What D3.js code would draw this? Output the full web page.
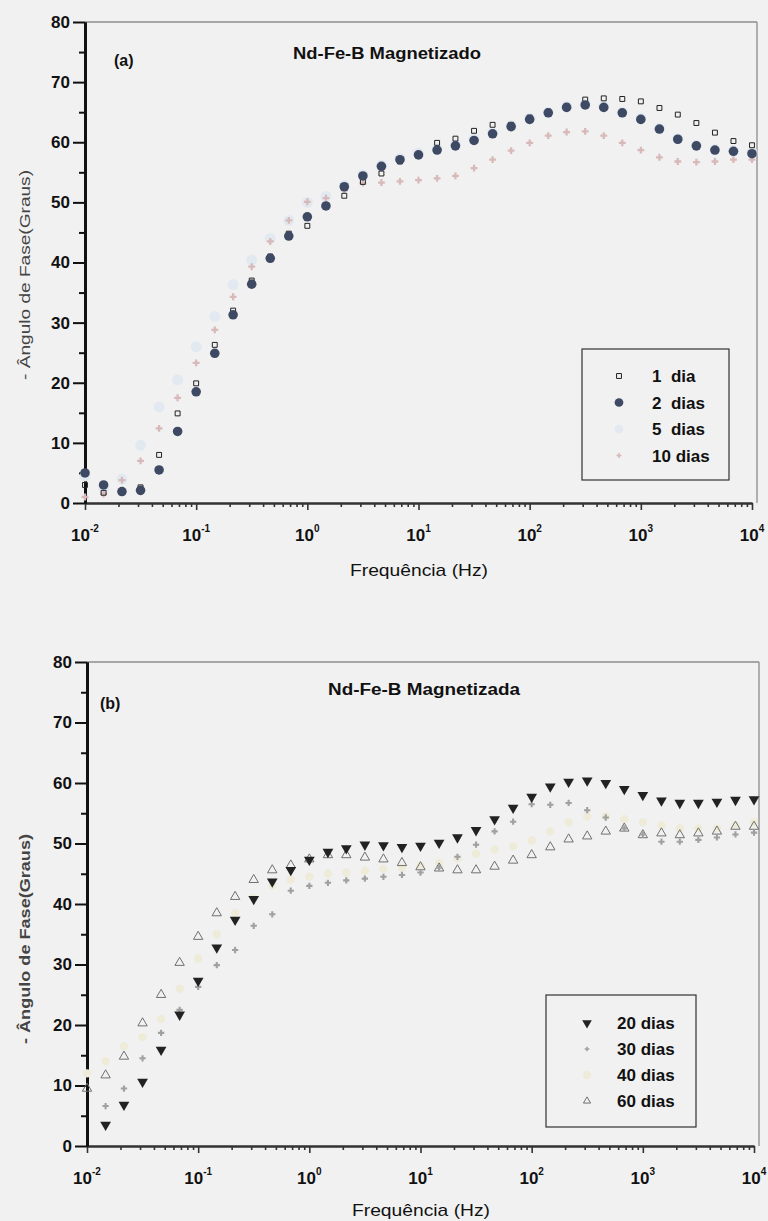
<!DOCTYPE html>
<html>
<head>
<meta charset="utf-8">
<script src="https://cdn.jsdelivr.net/npm/d3@7"></script>
<style>
html,body{margin:0;padding:0;background:#f1f1f1;}
svg{display:block;font-family:"Liberation Sans",Arial,sans-serif;}
</style>
</head>
<body>
<script>
// ---------- data ----------
const freq = [0.01, 0.0147, 0.0215, 0.0316, 0.0464, 0.0681, 0.1, 0.147, 0.215, 0.316, 0.464, 0.681,
  1, 1.47, 2.15, 3.16, 4.64, 6.81, 10, 14.7, 21.5, 31.6, 46.4, 68.1, 100, 147, 215, 316, 464, 681,
  1000, 1470, 2150, 3160, 4640, 6810, 10000];

// panel (a)
const dia1 = [3.0, 1.7, 1.8, 2.6, 8.0, 14.9, 19.9, 26.3, 32.0, 37.0, 41.0, 44.8, 46.1, 49.5, 51.1, 53.4, 54.8, 56.8, 57.8, 59.9,
  60.6, 61.9, 62.9, 62.9, 64.1, 65.1, 66.0, 67.1, 67.3, 67.2, 66.8, 65.7, 64.6, 63.2, 61.6, 60.2, 59.5];
const dias2 = [5.0, 3.0, 1.9, 2.1, 5.5, 11.9, 18.5, 24.9, 31.3, 36.4, 40.7, 44.4, 47.6, 49.4, 52.6, 54.4, 56.0, 57.1, 57.9, 58.7,
  59.4, 60.3, 61.4, 62.6, 63.8, 64.9, 65.8, 66.2, 65.8, 64.9, 63.8, 62.2, 60.5, 59.4, 58.7, 58.5, 58.1];
const dias5 = [4.5, 2.5, 4.0, 9.6, 16.0, 20.5, 26.0, 31.0, 36.3, 40.4, 44.0, 47.0, 50.0, 51.0, 52.8, 54.6, 56.2, 57.3, 58.2, 58.9,
  59.6, 60.5, 61.6, 62.8, 64.0, 65.0, 66.0, 66.3, 66.0, 65.0, 64.0, 62.3, 60.6, 59.5, 58.8, 58.6, 58.3];
const dias10 = [1.0, 1.5, 3.8, 7.0, 12.4, 17.5, 23.3, 28.8, 34.3, 39.3, 43.5, 47.0, 50.1, 50.7, 52.0, 53.2, 53.3, 53.5, 53.7, 54.0,
  54.4, 55.7, 57.1, 58.6, 59.9, 61.1, 61.7, 61.8, 61.1, 59.9, 58.7, 57.5, 56.8, 56.7, 56.8, 57.1, 57.1];

// panel (b)
const dias20 = [null, 3.5, 6.8, 10.6, 15.9, 21.7, 27.3, 32.8, 37.4, 40.8, 43.7, 45.6, 47.3, 48.6, 49.2, 49.8, 49.7, 49.4, 49.6, 50.1,
  51.0, 52.2, 54.0, 55.9, 57.7, 59.4, 60.2, 60.4, 60.0, 59.0, 58.0, 57.1, 56.7, 56.7, 56.9, 57.2, 57.3];
const dias30 = [null, 6.6, 9.5, 14.5, 18.7, 22.5, 26.3, 29.9, 32.4, 36.4, 38.3, 42.2, 43.0, 43.5, 43.9, 44.2, 44.5, 44.8, 45.2, 46.0,
  47.8, 49.8, 52.0, 53.6, 56.5, 56.4, 56.7, 55.5, 54.3, 52.5, 51.5, 50.3, 50.3, 50.6, 51.0, 51.5, 51.8];
const dias40 = [12.0, 14.0, 16.5, 18.0, 21.0, 26.0, 31.0, 35.0, 38.5, 41.0, 43.0, 44.0, 44.5, 45.0, 45.2, 45.5, 45.8, 46.0, 46.3, 46.8,
  47.5, 48.3, 49.0, 49.5, 50.5, 52.0, 53.5, 54.5, 54.5, 54.0, 53.5, 53.0, 52.5, 52.5, 52.5, 53.0, 53.5];
const dias60 = [9.5, 11.7, 14.8, 20.3, 25.0, 30.3, 34.6, 38.5, 41.2, 44.0, 45.6, 46.4, 47.4, 48.1, 48.1, 47.7, 47.4, 46.8, 46.1, 45.9,
  45.6, 45.6, 46.2, 47.2, 48.1, 49.4, 50.7, 51.2, 52.0, 52.5, 51.4, 51.7, 51.4, 51.7, 52.0, 52.8, 52.8];

const yTicks = [0, 10, 20, 30, 40, 50, 60, 70, 80];
const yMinor = [5, 15, 25, 35, 45, 55, 65, 75];
const xDecades = [0.01, 0.1, 1, 10, 100, 1000, 10000];
const xExponents = ["-2", "-1", "0", "1", "2", "3", "4"];
const legendA = ["1  dia", "2  dias", "5  dias", "10 dias"];
const legendB = ["20 dias", "30 dias", "40 dias", "60 dias"];
const titleA = "Nd-Fe-B Magnetizado";
const titleB = "Nd-Fe-B Magnetizada";
const xTitle = "Frequência (Hz)";
const yTitle = "- Ângulo de Fase(Graus)";

// ---------- drawing ----------
const W = 768, H = 1221;
const svg = d3.select("body").append("svg").attr("width", W).attr("height", H);
svg.append("rect").attr("width", W).attr("height", H).attr("fill", "#f1f1f1");

function drawPanel(p) {
  const x = d3.scaleLog().domain([0.01, 1e4]).range([p.left, p.right]);
  const y = d3.scaleLinear().domain([0, 80]).range([p.bottom, p.top]);
  const g = svg.append("g");

  // frame (top, right)
  g.append("line").attr("x1", p.left).attr("x2", p.frameRight).attr("y1", p.top).attr("y2", p.top)
    .attr("stroke", "#8c8c8c").attr("stroke-width", 1.3);
  g.append("line").attr("x1", p.frameRight).attr("x2", p.frameRight).attr("y1", p.top).attr("y2", p.bottom)
    .attr("stroke", "#8c8c8c").attr("stroke-width", 1.3);

  // x axis
  const minor = x.ticks().filter(v => !xDecades.some(d => Math.abs(d - v) / d < 1e-6));
  const gxm = g.append("g").attr("transform", `translate(0,${p.bottom})`)
    .call(d3.axisBottom(x).tickValues(minor).tickSize(4).tickSizeOuter(0).tickFormat(""));
  const gx = g.append("g").attr("transform", `translate(0,${p.bottom})`)
    .call(d3.axisBottom(x).tickValues(xDecades).tickSize(7).tickSizeOuter(0).tickFormat(""));
  [gxm, gx].forEach(a => {
    a.selectAll(".domain").attr("stroke", "#333").attr("stroke-width", 2);
    a.selectAll(".tick line").attr("stroke", "#333").attr("stroke-width", 1.6);
  });

  const lbl = g.append("g").selectAll("text").data(xDecades).join("text")
    .attr("x", d => x(d)).attr("y", p.bottom + 38)
    .attr("text-anchor", "middle").attr("font-size", 17).attr("font-weight", "bold").attr("fill", "#111");
  lbl.append("tspan").text("10");
  lbl.append("tspan").attr("dy", -9).attr("font-size", 10).text((d, i) => xExponents[i]);

  // y axis
  const gym = g.append("g").attr("transform", `translate(${p.left},0)`)
    .call(d3.axisLeft(y).tickValues(yMinor).tickSize(6).tickSizeOuter(0).tickFormat(""));
  const gy = g.append("g").attr("transform", `translate(${p.left},0)`)
    .call(d3.axisLeft(y).tickValues(yTicks).tickSize(12).tickSizeOuter(0).tickPadding(3).tickFormat(d3.format("d")));
  [gym, gy].forEach(a => {
    a.selectAll(".domain").attr("stroke", "#111").attr("stroke-width", 3);
    a.selectAll(".tick line").attr("stroke", "#111").attr("stroke-width", 2);
  });
  gy.selectAll(".tick text").attr("font-size", 17).attr("font-weight", "bold").attr("fill", "#111")
    .attr("font-family", "Liberation Sans, Arial, sans-serif");

  // titles
  g.append("text").attr("x", p.xTitleX).attr("y", p.xTitleY).attr("text-anchor", "middle")
    .attr("font-size", 17).attr("fill", "#111").attr("textLength", 138).attr("lengthAdjust", "spacingAndGlyphs")
    .text(xTitle);
  g.append("text").attr("transform", `translate(${p.yTitleX},${p.yTitleY}) rotate(-90)`).attr("text-anchor", "middle")
    .attr("font-size", 15).attr("font-weight", p.yTitleWeight).attr("fill", "#444")
    .attr("textLength", 210).attr("lengthAdjust", "spacingAndGlyphs")
    .text(yTitle);
  g.append("text").attr("x", p.tagX).attr("y", p.tagY).attr("font-size", 16).attr("font-weight", "bold")
    .attr("fill", "#111").text(p.tag);
  g.append("text").attr("x", p.titleX).attr("y", p.titleY).attr("font-size", 16).attr("font-weight", "bold")
    .attr("fill", "#111").attr("textLength", p.titleLen).attr("lengthAdjust", "spacingAndGlyphs").text(p.title);

  // series
  p.series.forEach(s => {
    const pts = freq.map((f, i) => ({ f, v: s.values[i] })).filter(d => d.v != null);
    g.append("g").selectAll("path").data(pts).join("path")
      .attr("transform", d => `translate(${x(d.f)},${y(d.v)})${s.rotate ? " rotate(180)" : ""}`)
      .attr("d", d3.symbol().type(s.type).size(s.size)())
      .attr("fill", s.fill).attr("stroke", s.stroke || "none").attr("stroke-width", s.sw || 0);
  });

  // legend
  const L = p.legend;
  g.append("rect").attr("x", L.x).attr("y", L.y).attr("width", L.w).attr("height", L.h)
    .attr("fill", "none").attr("stroke", "#333").attr("stroke-width", 1.2);
  p.legendOrder.forEach((s, i) => {
    const cy = L.row0 + i * L.dy;
    g.append("path").attr("transform", `translate(${L.symX},${cy})${s.rotate ? " rotate(180)" : ""}`)
      .attr("d", d3.symbol().type(s.type).size(s.legendSize || s.size)())
      .attr("fill", s.fill).attr("stroke", s.stroke || "none").attr("stroke-width", s.sw || 0);
    g.append("text").attr("x", L.textX).attr("y", cy + 6).attr("font-size", 17).attr("font-weight", "bold")
      .attr("fill", "#111").style("white-space", "pre").attr("xml:space", "preserve").text(p.legendLabels[i]);
  });
}

// panel (a)
const sA1 = { values: dia1, type: d3.symbolSquare, size: 24, fill: "none", stroke: "#222", sw: 1 };
const sA2 = { values: dias2, type: d3.symbolCircle, size: 72, fill: "#3e4963", legendSize: 60 };
const sA5 = { values: dias5, type: d3.symbolCircle, size: 95, fill: "#e2e9f1", legendSize: 60 };
const sA10 = { values: dias10, type: d3.symbolCross, size: 26, fill: "#d8b9b9", legendSize: 14 };
drawPanel({
  left: 85, right: 752, frameRight: 757, top: 22, bottom: 503,
  xTitleX: 419, xTitleY: 576, yTitleX: 30, yTitleY: 275, yTitleWeight: "normal",
  tag: "(a)", tagX: 114, tagY: 66,
  title: titleA, titleX: 293, titleY: 59, titleLen: 188,
  series: [sA5, sA10, sA1, sA2],
  legendOrder: [sA1, sA2, sA5, sA10],
  legendLabels: legendA,
  legend: { x: 582, y: 349, w: 147, h: 131, row0: 376, dy: 26.5, symX: 619, textX: 652 }
});

// panel (b)
const sB20 = { values: dias20, type: d3.symbolTriangle, size: 50, fill: "#222", rotate: true, legendSize: 40 };
const sB30 = { values: dias30, type: d3.symbolCross, size: 22, fill: "#a0a0a0", legendSize: 12 };
const sB40 = { values: dias40, type: d3.symbolCircle, size: 55, fill: "#eeebd8" };
const sB60 = { values: dias60, type: d3.symbolTriangle, size: 38, fill: "none", stroke: "#707070", sw: 1, legendSize: 22 };
drawPanel({
  left: 87, right: 754, frameRight: 759, top: 662, bottom: 1146,
  xTitleX: 421, xTitleY: 1216, yTitleX: 30, yTitleY: 939, yTitleWeight: "bold",
  tag: "(b)", tagX: 100, tagY: 709,
  title: titleB, titleX: 328, titleY: 695, titleLen: 192,
  series: [sB40, sB60, sB30, sB20],
  legendOrder: [sB20, sB30, sB40, sB60],
  legendLabels: legendB,
  legend: { x: 546, y: 995, w: 150, h: 132, row0: 1023, dy: 26, symX: 587, textX: 617 }
});
</script>
</body>
</html>
